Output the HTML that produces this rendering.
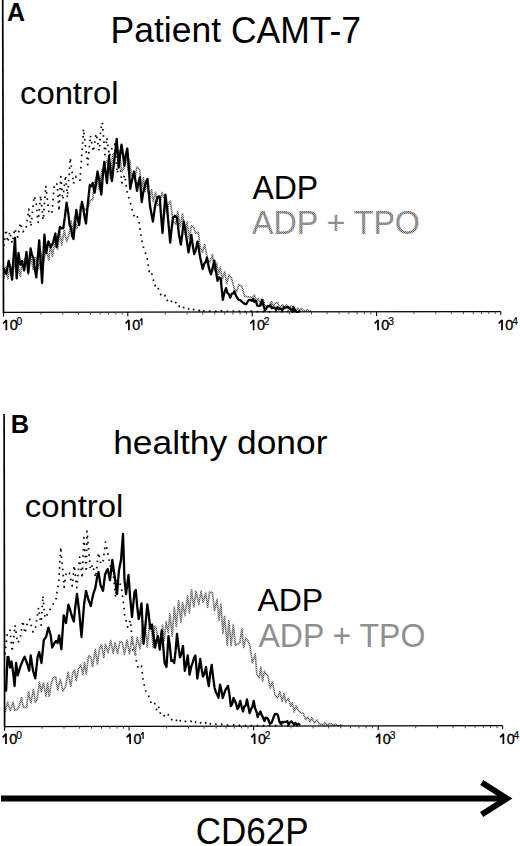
<!DOCTYPE html>
<html><head><meta charset="utf-8"><style>
html,body{margin:0;padding:0;background:#fff;}
body{width:520px;height:846px;overflow:hidden;font-family:"Liberation Sans",sans-serif;}
svg{display:block;}
</style></head><body>
<svg width="520" height="846" viewBox="0 0 520 846" font-family="Liberation Sans">
<defs><pattern id="ht" width="2" height="2" patternUnits="userSpaceOnUse"><rect width="2" height="2" fill="#c4c4c4"/><rect width="1" height="1" fill="#5a5a5a"/><rect x="1" y="1" width="1" height="1" fill="#5a5a5a"/></pattern></defs>
<g fill="none" stroke-linejoin="round" stroke-linecap="butt">
<path d="M3.8 246.0 L6.0 229.6 L7.8 242.2 L9.8 231.6 L12.2 243.1 L14.8 228.6 L17.7 237.2 L20.4 222.8 L22.9 231.7 L25.8 230.1 L28.8 209.1 L31.0 226.5 L34.1 196.1 L35.9 200.4 L38.2 222.4 L40.6 195.4 L43.2 220.0 L45.8 185.8 L48.9 212.6 L51.9 213.7 L54.4 183.5 L57.2 184.2 L59.0 211.0 L60.8 176.7 L62.7 199.7 L65.6 175.4 L67.4 197.7 L70.3 157.9 L73.5 183.7 L76.0 176.3 L78.3 178.7 L80.0 180.1 L83.1 137.1 L83.5 129.0 L87.8 164.7 L90.4 135.4 L93.4 151.6 L96.1 133.7 L99.2 150.8 L100.9 128.7 L102.3 122.4 L105.0 154.6 L106.8 137.7 L109.4 156.1 L112.2 147.4 L114.8 144.0 L117.2 173.5 L119.4 159.0 L121.9 182.9 L124.7 175.1 L127.4 193.6 L130.3 202.2 L132.6 211.6 L134.7 217.4 L137.0 215.6 L139.2 222.7 L141.5 239.2 L144.0 249.5 L146.9 256.2 L149.7 274.9 L151.9 274.1 L154.7 285.7 L157.0 284.7 L160.0 293.6 L163.0 297.4 L165.3 295.3 L167.3 300.5 L170.0 298.7 L172.1 302.6 L174.7 304.0 L176.4 301.8 L179.4 306.5 L181.9 305.1 L183.9 307.7 L186.3 306.6 L188.8 309.0 L191.8 307.6 L194.0 309.7 L196.8 308.8 L199.8 310.9 L201.5 309.4 L203.3 311.1 L205.7 309.9 L208.5 311.1 L210.4 311.2 L213.4 311.6 L215.8 311.4 L218.0 310.4 L220.2 311.4 L222.1 310.6 L224.3 311.4 L226.5 311.6 L228.8 310.8 L231.1 311.6 L233.8 311.0 L236.1 311.6 L238.8 311.1 L241.1 311.8 L243.3 310.9 L245.4 311.7 L248.2 311.7 L251.0 311.0 L253.5 311.6 L255.2 311.2 L256.9 311.6 L259.9 311.6 L262.8 311.6 L265.4 311.1 L268.0 311.8 L270.7 311.7 L272.6 311.1 L274.3 311.7 L277.2 311.3 L279.3 311.2 L281.5 311.7 L283.7 311.3 L286.1 311.2 L288.8 311.7 L291.6 311.3 L294.0 311.7 L295.9 311.3 L298.9 311.7" stroke="#000" stroke-width="1.7" stroke-dasharray="1.6 4.6"/>
<path d="M3.8 278.8 L5.4 267.1 L7.9 278.7 L10.3 264.9 L12.0 277.9 L14.5 261.7 L16.8 277.4 L18.4 265.8 L20.3 276.4 L22.5 260.9 L24.1 261.2 L26.3 256.2 L28.1 274.5 L30.6 254.4 L33.2 269.8 L36.0 257.4 L38.5 269.3 L40.7 251.6 L43.3 264.5 L46.1 247.9 L48.8 260.0 L50.6 243.9 L52.4 256.7 L55.1 239.3 L57.6 249.3 L60.0 232.2 L61.8 245.1 L64.2 230.1 L66.7 241.5 L69.2 233.8 L71.1 220.9 L72.8 232.0 L74.7 216.8 L76.8 228.3 L78.8 222.9 L80.4 205.4 L82.9 205.5 L85.5 210.3 L88.0 206.6 L90.8 200.0 L92.8 199.4 L94.5 182.4 L96.7 176.6 L99.4 189.6 L101.9 170.3 L104.3 167.8 L106.4 161.2 L108.7 160.9 L110.4 178.9 L112.8 154.1 L115.1 152.6 L116.6 152.7 L119.0 150.6 L121.8 172.0 L123.9 168.0 L126.3 152.9 L128.2 171.0 L129.7 160.1 L131.4 175.6 L133.1 175.1 L134.9 179.7 L136.8 167.2 L139.6 169.6 L141.7 189.5 L143.3 177.5 L145.1 191.6 L147.1 181.9 L149.4 198.4 L151.5 189.4 L153.2 201.4 L155.6 192.3 L157.7 205.5 L160.0 204.9 L162.0 192.4 L164.5 199.0 L166.6 213.7 L168.7 203.5 L170.3 201.1 L173.1 221.4 L175.5 224.3 L177.7 211.3 L180.3 226.3 L182.5 213.5 L185.3 234.9 L187.1 221.9 L189.2 238.5 L191.5 225.6 L193.5 226.9 L195.6 233.5 L198.3 232.2 L200.1 247.0 L202.5 252.1 L204.7 244.5 L207.5 259.4 L209.7 262.4 L212.5 254.5 L214.5 270.8 L216.8 263.0 L218.4 275.0 L220.2 267.1 L222.3 279.7 L224.7 271.6 L226.7 283.5 L229.2 274.7 L231.6 278.5 L234.4 289.4 L236.6 291.4 L239.0 284.5 L241.8 286.6 L244.5 296.1 L247.1 296.6 L249.6 297.0 L252.3 297.9 L254.4 295.1 L256.5 301.5 L258.2 298.7 L260.8 305.3 L263.0 299.6 L264.9 305.5 L266.5 306.2 L269.0 306.5 L271.5 301.6 L273.2 306.3 L275.4 303.2 L277.6 302.6 L279.9 308.0 L282.6 304.7 L284.7 309.0 L286.4 304.9 L288.8 310.0 L290.8 305.9 L293.2 307.0 L295.9 310.6 L297.8 308.2 L299.7 310.4 L301.4 308.4 L303.4 310.8 L305.5 310.9 L307.4 309.7 L309.6 311.6 L311.5 310.6" stroke="url(#ht)" stroke-width="1.7"/>
<path d="M3.8 268.0 L4.5 272.0 L6.3 273.8 L8.7 261.0 L10.4 268.0 L12.1 279.6 L13.6 256.9 L15.0 238.0 L16.7 278.4 L18.5 253.0 L20.2 264.6 L21.9 261.0 L24.2 270.4 L26.5 252.0 L28.3 272.7 L30.6 248.5 L32.0 254.9 L33.4 257.7 L34.8 268.9 L36.3 277.3 L37.8 257.6 L39.2 240.4 L40.7 261.7 L42.1 283.0 L44.4 234.6 L46.1 253.0 L48.4 241.5 L50.7 247.3 L53.0 242.7 L55.4 233.5 L56.5 247.0 L58.2 236.7 L60.0 227.0 L61.6 228.3 L63.3 228.0 L64.9 216.9 L66.6 202.7 L68.1 211.7 L69.6 225.0 L70.9 227.2 L72.2 236.1 L73.5 239.0 L74.9 224.2 L76.3 210.0 L77.8 218.9 L79.2 225.0 L80.6 210.9 L82.0 202.0 L83.3 208.9 L84.7 217.5 L86.0 223.5 L87.9 202.8 L89.8 185.0 L91.2 186.3 L92.7 183.0 L94.6 192.7 L96.0 184.2 L97.5 171.5 L99.4 180.6 L101.3 194.6 L102.8 175.8 L104.2 162.0 L105.6 172.7 L107.0 183.0 L109.0 156.0 L110.5 170.8 L112.0 181.0 L113.4 167.9 L114.8 156.0 L116.7 138.8 L118.7 167.7 L120.1 154.7 L121.5 144.6 L123.0 154.8 L124.4 165.8 L125.8 154.7 L127.3 148.5 L128.8 167.2 L130.2 188.8 L132.1 179.8 L134.0 171.5 L135.5 181.1 L137.0 190.8 L138.4 182.7 L139.8 177.3 L141.7 202.0 L143.1 193.1 L144.6 187.0 L146.1 181.5 L147.5 179.0 L150.0 206.0 L151.4 213.5 L152.9 221.5 L154.4 210.8 L155.8 202.3 L157.7 196.9 L159.6 196.5 L161.1 216.5 L162.5 233.0 L163.9 214.1 L165.4 194.6 L167.3 210.0 L168.8 227.1 L170.2 242.7 L171.6 228.6 L173.0 217.7 L175.0 215.8 L177.0 217.7 L178.9 233.7 L180.8 244.6 L182.2 234.9 L183.7 221.5 L185.3 229.8 L186.9 241.2 L188.5 252.3 L189.9 244.8 L191.3 235.0 L192.8 245.6 L194.2 254.0 L195.8 250.1 L197.4 241.6 L198.7 248.0 L200.1 257.0 L201.4 263.0 L202.7 269.0 L204.1 264.1 L205.6 261.8 L207.0 257.5 L208.3 265.1 L209.7 270.6 L211.0 274.4 L212.7 267.6 L214.3 260.7 L215.9 271.2 L217.5 280.8 L219.1 277.3 L220.7 278.7 L222.8 299.8 L224.4 292.7 L226.0 288.2 L227.4 292.9 L228.8 294.1 L230.2 297.7 L231.6 293.9 L233.0 293.7 L234.4 291.3 L235.8 295.2 L237.3 297.9 L238.7 299.8 L240.3 300.2 L241.8 301.6 L243.4 303.0 L245.0 304.0 L246.4 304.0 L247.8 301.3 L249.2 299.8 L250.5 299.8 L251.8 300.8 L253.2 299.0 L254.5 302.0 L255.9 301.0 L257.3 305.7 L258.7 306.0 L260.4 305.4 L262.0 299.8 L263.5 305.6 L265.0 310.4 L266.4 308.5 L267.7 306.0 L269.0 306.4 L270.4 305.0 L271.8 308.2 L273.2 307.8 L274.6 307.4 L276.0 309.7 L277.4 307.2 L278.8 309.3 L280.5 308.6 L282.3 310.1 L284.0 307.0 L285.4 307.7 L286.7 307.4 L288.0 306.8 L289.4 308.3 L290.8 309.1 L292.2 311.7 L293.6 307.3 L295.0 310.4 L296.7 311.8 L298.3 311.8 L300.0 311.0" stroke="#000" stroke-width="2.3"/>
<path d="M5.0 654.3 L7.4 632.0 L10.0 630.2 L12.2 651.9 L15.1 625.2 L17.5 642.9 L20.0 639.8 L22.8 620.8 L25.0 633.4 L27.8 621.3 L29.8 619.4 L32.9 632.0 L35.5 628.3 L38.5 607.8 L41.1 625.2 L42.9 595.7 L45.0 618.1 L47.9 613.4 L50.6 608.7 L52.9 604.6 L55.9 599.8 L58.7 582.6 L60.7 547.0 L64.1 587.3 L66.3 571.9 L69.4 573.1 L72.2 586.0 L74.2 565.4 L76.8 587.7 L79.7 557.1 L82.1 578.2 L83.9 537.7 L86.3 572.0 L87.0 531.0 L90.4 569.6 L92.6 564.6 L95.6 577.5 L98.5 552.7 L100.9 564.1 L103.1 561.9 L105.3 543.6 L105.5 542.0 L110.7 567.6 L112.8 568.7 L115.6 597.4 L117.3 580.2 L119.0 580.2 L121.8 589.9 L124.7 614.9 L127.7 627.1 L130.5 620.3 L132.9 651.1 L134.8 647.6 L136.7 663.9 L138.5 668.5 L141.5 666.1 L143.3 682.0 L145.9 691.1 L148.9 696.6 L151.7 704.9 L154.7 703.5 L157.0 711.4 L158.8 707.3 L160.9 715.6 L163.8 716.2 L166.1 713.0 L167.9 714.2 L170.3 719.0 L172.5 720.1 L175.3 718.5 L177.5 721.9 L179.3 719.7 L181.7 722.3 L184.2 722.4 L186.1 720.7 L188.6 720.9 L190.6 720.9 L192.8 723.2 L194.9 721.4 L197.4 723.6 L199.6 722.1 L202.7 724.3 L205.4 722.7 L207.6 724.8 L209.6 723.2 L211.3 724.7 L213.2 723.6 L215.4 724.0 L218.2 725.1 L221.2 724.1 L223.9 725.5 L226.5 725.2 L229.6 725.2 L232.4 724.4 L235.0 725.4 L237.0 724.6 L239.8 725.5 L241.9 724.8 L245.0 725.6 L247.8 725.0 L249.5 725.6 L252.5 725.5 L255.6 725.0 L257.3 725.5 L259.1 725.5 L260.9 725.0 L262.8 725.6 L265.9 725.6 L268.4 725.0 L270.4 725.6 L272.4 725.1 L274.9 725.7 L277.3 725.2 L279.7 725.7 L282.4 725.1 L285.3 725.8 L288.3 725.8 L290.4 725.3 L292.6 725.2 L294.3 725.7 L296.9 725.8 L298.7 725.3" stroke="#000" stroke-width="1.7" stroke-dasharray="1.6 4.6"/>
<path d="M5.0 712.8 L7.6 702.2 L10.3 710.8 L13.1 702.2 L14.8 710.4 L17.1 709.3 L18.9 707.0 L21.5 697.5 L23.2 706.8 L24.7 707.5 L26.5 707.6 L28.5 691.5 L30.9 703.2 L33.4 689.2 L35.3 702.4 L37.0 700.3 L39.4 682.1 L41.3 691.9 L43.5 682.8 L46.0 696.3 L47.6 682.9 L49.1 696.4 L51.4 682.9 L53.2 677.7 L55.7 676.9 L57.7 690.2 L60.3 679.3 L62.9 691.1 L65.7 686.2 L68.0 672.2 L70.8 686.3 L72.7 673.4 L74.5 669.8 L76.2 680.5 L78.5 668.9 L80.8 664.9 L82.9 674.8 L84.5 662.1 L86.2 674.2 L88.6 655.8 L90.7 656.7 L92.6 666.5 L95.3 649.4 L97.5 664.4 L99.4 649.4 L101.4 644.6 L103.8 657.7 L105.4 644.2 L108.1 652.9 L110.7 640.4 L113.2 653.6 L115.1 642.7 L117.6 653.7 L120.0 641.6 L122.3 642.2 L124.4 654.5 L127.0 640.0 L129.5 654.1 L132.2 636.3 L135.0 654.8 L137.2 637.1 L140.0 649.0 L142.5 627.2 L145.1 625.2 L147.2 647.1 L149.6 624.2 L151.3 626.3 L153.1 647.6 L154.7 625.9 L156.3 628.1 L158.1 642.8 L160.3 643.7 L162.6 625.1 L164.1 640.8 L166.2 621.5 L168.2 632.8 L169.9 613.6 L172.2 636.1 L174.3 607.2 L176.3 626.4 L178.6 600.8 L181.0 622.3 L182.5 602.1 L184.9 615.7 L187.6 595.9 L189.4 613.1 L191.5 589.8 L193.8 607.0 L196.0 591.2 L198.8 604.3 L201.0 591.2 L203.1 602.5 L205.7 592.7 L207.6 607.5 L209.5 592.2 L212.4 592.5 L214.5 610.8 L217.0 599.4 L219.0 620.1 L220.9 604.1 L222.9 633.7 L224.5 616.4 L227.3 645.5 L228.8 620.4 L231.1 645.7 L233.3 624.6 L235.4 645.4 L237.3 644.4 L239.9 642.4 L241.9 628.6 L243.6 647.7 L245.8 638.3 L248.1 641.3 L249.9 645.8 L252.4 663.2 L255.2 653.9 L256.8 673.9 L259.2 677.9 L260.9 667.0 L262.6 681.3 L264.4 671.1 L266.1 674.3 L267.7 675.5 L270.4 688.0 L272.3 681.7 L275.1 695.4 L277.6 698.2 L279.8 691.5 L282.1 701.5 L284.0 693.3 L285.7 702.4 L288.3 698.1 L290.7 706.3 L292.3 702.7 L294.2 712.0 L296.1 705.8 L298.6 711.0 L301.4 712.9 L303.1 713.1 L305.7 719.8 L307.8 716.8 L310.1 721.8 L311.8 717.7 L314.4 723.1 L316.7 719.8 L319.2 724.0 L320.8 724.1 L323.5 725.0 L325.0 722.5 L327.4 725.2 L329.0 723.5 L331.1 723.6 L332.8 725.4 L334.6 724.3 L336.7 724.7 L338.8 726.0 L341.2 724.8 L342.9 725.9" stroke="url(#ht)" stroke-width="1.7"/>
<path d="M5.2 690.0 L6.1 690.6 L7.5 657.0 L8.4 656.8 L10.0 667.6 L11.5 661.4 L13.1 672.3 L14.6 686.0 L16.1 663.0 L17.7 675.3 L20.0 667.6 L22.3 661.4 L24.6 656.8 L26.9 663.0 L29.2 670.7 L30.7 655.3 L33.0 670.7 L35.3 678.3 L37.6 656.8 L39.2 652.2 L41.5 663.0 L43.8 640.0 L46.1 636.9 L48.4 627.6 L50.7 635.3 L52.2 647.6 L54.5 643.0 L56.0 640.9 L57.6 643.0 L59.1 635.3 L61.4 649.2 L63.7 615.4 L66.0 623.0 L68.4 604.6 L70.0 609.3 L71.5 615.0 L73.8 621.5 L75.4 606.0 L77.0 594.0 L79.0 610.0 L81.5 637.0 L84.0 605.0 L86.0 590.8 L88.5 600.0 L90.8 606.0 L93.0 595.0 L95.4 587.7 L97.0 577.6 L98.5 572.0 L100.5 585.0 L103.0 590.8 L105.0 575.0 L106.3 571.5 L107.7 569.0 L110.0 580.0 L112.3 560.0 L114.5 575.0 L117.0 594.0 L119.0 570.0 L121.0 560.0 L123.0 533.8 L124.5 580.0 L126.0 594.0 L128.5 575.0 L130.0 595.8 L132.0 617.0 L134.5 592.0 L135.8 590.0 L137.2 606.7 L138.7 619.0 L140.1 612.8 L141.5 603.5 L143.5 644.0 L145.4 625.6 L147.3 604.4 L148.8 615.0 L150.2 628.5 L152.0 624.6 L153.5 636.3 L155.0 647.7 L156.4 640.7 L157.9 636.0 L159.8 649.6 L161.7 630.4 L163.1 645.0 L164.6 663.0 L166.5 667.0 L168.5 636.0 L169.9 646.5 L171.3 661.0 L172.8 660.5 L174.2 663.0 L175.6 650.7 L177.0 634.0 L178.5 647.4 L180.0 657.3 L181.5 653.1 L183.0 645.8 L184.8 670.8 L186.2 664.7 L187.7 655.4 L189.6 674.6 L191.1 667.2 L192.5 663.0 L193.9 658.2 L195.4 655.4 L197.3 678.5 L198.8 669.4 L200.2 659.0 L201.6 669.0 L203.0 676.5 L204.5 673.6 L206.0 667.0 L207.4 678.5 L208.8 686.0 L210.2 673.4 L211.7 665.0 L213.1 677.1 L214.6 688.0 L215.9 692.1 L217.2 694.5 L218.5 697.7 L220.0 684.6 L221.3 689.6 L222.7 698.0 L224.1 693.9 L225.4 690.0 L228.0 686.0 L229.4 693.9 L230.8 706.0 L232.2 704.3 L233.5 698.0 L236.0 703.5 L237.5 709.0 L238.8 706.8 L240.2 700.8 L241.6 706.4 L243.0 711.5 L244.3 706.4 L245.7 705.6 L247.0 699.4 L249.6 713.0 L251.0 709.3 L252.3 706.9 L253.7 700.8 L255.0 708.0 L256.4 711.6 L257.7 717.0 L259.0 713.8 L260.4 711.5 L261.7 715.2 L263.1 717.5 L264.4 721.0 L265.7 717.7 L267.0 718.0 L268.4 719.8 L269.8 723.7 L271.4 723.0 L273.0 719.0 L274.8 714.1 L276.5 714.0 L277.9 714.9 L279.2 721.1 L280.6 723.7 L281.9 721.9 L283.3 722.6 L284.6 721.8 L286.0 721.8 L287.3 721.2 L288.6 724.8 L290.0 722.3 L291.3 721.3 L292.7 723.0 L294.0 724.0 L295.5 722.8 L297.0 725.3 L298.5 723.7 L300.0 725.2" stroke="#000" stroke-width="2.3"/>
</g>
<line x1="2.7" y1="0" x2="3.5" y2="313.1" stroke="#000" stroke-width="1.7"/>
<line x1="3.0" y1="312.3" x2="500.8" y2="311.6" stroke="#000" stroke-width="1.25"/>
<line x1="3.5" y1="312.3" x2="3.5" y2="316.5" stroke="#000" stroke-width="1.1"/>
<line x1="40.9" y1="312.2" x2="40.9" y2="314.6" stroke="#444" stroke-width="1"/>
<line x1="62.8" y1="312.2" x2="62.8" y2="314.6" stroke="#444" stroke-width="1"/>
<line x1="78.4" y1="312.2" x2="78.4" y2="314.6" stroke="#444" stroke-width="1"/>
<line x1="90.4" y1="312.2" x2="90.4" y2="314.6" stroke="#444" stroke-width="1"/>
<line x1="100.2" y1="312.2" x2="100.2" y2="314.6" stroke="#444" stroke-width="1"/>
<line x1="108.6" y1="312.2" x2="108.6" y2="314.6" stroke="#444" stroke-width="1"/>
<line x1="115.8" y1="312.1" x2="115.8" y2="314.5" stroke="#444" stroke-width="1"/>
<line x1="122.1" y1="312.1" x2="122.1" y2="314.5" stroke="#444" stroke-width="1"/>
<line x1="127.8" y1="312.1" x2="127.8" y2="316.3" stroke="#000" stroke-width="1.1"/>
<line x1="165.3" y1="312.1" x2="165.3" y2="314.5" stroke="#444" stroke-width="1"/>
<line x1="187.1" y1="312.0" x2="187.1" y2="314.4" stroke="#444" stroke-width="1"/>
<line x1="202.7" y1="312.0" x2="202.7" y2="314.4" stroke="#444" stroke-width="1"/>
<line x1="214.7" y1="312.0" x2="214.7" y2="314.4" stroke="#444" stroke-width="1"/>
<line x1="224.6" y1="312.0" x2="224.6" y2="314.4" stroke="#444" stroke-width="1"/>
<line x1="232.9" y1="312.0" x2="232.9" y2="314.4" stroke="#444" stroke-width="1"/>
<line x1="240.1" y1="312.0" x2="240.1" y2="314.4" stroke="#444" stroke-width="1"/>
<line x1="246.5" y1="312.0" x2="246.5" y2="314.4" stroke="#444" stroke-width="1"/>
<line x1="252.2" y1="312.0" x2="252.2" y2="316.2" stroke="#000" stroke-width="1.1"/>
<line x1="289.6" y1="311.9" x2="289.6" y2="314.3" stroke="#444" stroke-width="1"/>
<line x1="311.5" y1="311.9" x2="311.5" y2="314.3" stroke="#444" stroke-width="1"/>
<line x1="327.0" y1="311.8" x2="327.0" y2="314.2" stroke="#444" stroke-width="1"/>
<line x1="339.0" y1="311.8" x2="339.0" y2="314.2" stroke="#444" stroke-width="1"/>
<line x1="348.9" y1="311.8" x2="348.9" y2="314.2" stroke="#444" stroke-width="1"/>
<line x1="357.2" y1="311.8" x2="357.2" y2="314.2" stroke="#444" stroke-width="1"/>
<line x1="364.4" y1="311.8" x2="364.4" y2="314.2" stroke="#444" stroke-width="1"/>
<line x1="370.8" y1="311.8" x2="370.8" y2="314.2" stroke="#444" stroke-width="1"/>
<line x1="376.5" y1="311.8" x2="376.5" y2="316.0" stroke="#000" stroke-width="1.1"/>
<line x1="413.9" y1="311.7" x2="413.9" y2="314.1" stroke="#444" stroke-width="1"/>
<line x1="435.8" y1="311.7" x2="435.8" y2="314.1" stroke="#444" stroke-width="1"/>
<line x1="451.3" y1="311.7" x2="451.3" y2="314.1" stroke="#444" stroke-width="1"/>
<line x1="463.4" y1="311.7" x2="463.4" y2="314.1" stroke="#444" stroke-width="1"/>
<line x1="473.2" y1="311.6" x2="473.2" y2="314.0" stroke="#444" stroke-width="1"/>
<line x1="481.5" y1="311.6" x2="481.5" y2="314.0" stroke="#444" stroke-width="1"/>
<line x1="488.8" y1="311.6" x2="488.8" y2="314.0" stroke="#444" stroke-width="1"/>
<line x1="495.1" y1="311.6" x2="495.1" y2="314.0" stroke="#444" stroke-width="1"/>
<line x1="500.8" y1="311.6" x2="500.8" y2="315.1" stroke="#000" stroke-width="1"/>
<line x1="4.1" y1="414" x2="4.6" y2="727.3" stroke="#000" stroke-width="1.7"/>
<line x1="4.1" y1="726.5" x2="502.7" y2="725.7" stroke="#000" stroke-width="1.25"/>
<line x1="4.6" y1="726.5" x2="4.6" y2="730.7" stroke="#000" stroke-width="1.1"/>
<line x1="42.1" y1="726.4" x2="42.1" y2="728.8" stroke="#444" stroke-width="1"/>
<line x1="64.0" y1="726.4" x2="64.0" y2="728.8" stroke="#444" stroke-width="1"/>
<line x1="79.6" y1="726.4" x2="79.6" y2="728.8" stroke="#444" stroke-width="1"/>
<line x1="91.6" y1="726.4" x2="91.6" y2="728.8" stroke="#444" stroke-width="1"/>
<line x1="101.5" y1="726.3" x2="101.5" y2="728.7" stroke="#444" stroke-width="1"/>
<line x1="109.8" y1="726.3" x2="109.8" y2="728.7" stroke="#444" stroke-width="1"/>
<line x1="117.1" y1="726.3" x2="117.1" y2="728.7" stroke="#444" stroke-width="1"/>
<line x1="123.4" y1="726.3" x2="123.4" y2="728.7" stroke="#444" stroke-width="1"/>
<line x1="129.1" y1="726.3" x2="129.1" y2="730.5" stroke="#000" stroke-width="1.1"/>
<line x1="166.6" y1="726.2" x2="166.6" y2="728.6" stroke="#444" stroke-width="1"/>
<line x1="188.5" y1="726.2" x2="188.5" y2="728.6" stroke="#444" stroke-width="1"/>
<line x1="204.1" y1="726.2" x2="204.1" y2="728.6" stroke="#444" stroke-width="1"/>
<line x1="216.2" y1="726.2" x2="216.2" y2="728.6" stroke="#444" stroke-width="1"/>
<line x1="226.0" y1="726.1" x2="226.0" y2="728.5" stroke="#444" stroke-width="1"/>
<line x1="234.4" y1="726.1" x2="234.4" y2="728.5" stroke="#444" stroke-width="1"/>
<line x1="241.6" y1="726.1" x2="241.6" y2="728.5" stroke="#444" stroke-width="1"/>
<line x1="248.0" y1="726.1" x2="248.0" y2="728.5" stroke="#444" stroke-width="1"/>
<line x1="253.6" y1="726.1" x2="253.6" y2="730.3" stroke="#000" stroke-width="1.1"/>
<line x1="291.1" y1="726.0" x2="291.1" y2="728.4" stroke="#444" stroke-width="1"/>
<line x1="313.1" y1="726.0" x2="313.1" y2="728.4" stroke="#444" stroke-width="1"/>
<line x1="328.6" y1="726.0" x2="328.6" y2="728.4" stroke="#444" stroke-width="1"/>
<line x1="340.7" y1="726.0" x2="340.7" y2="728.4" stroke="#444" stroke-width="1"/>
<line x1="350.5" y1="725.9" x2="350.5" y2="728.3" stroke="#444" stroke-width="1"/>
<line x1="358.9" y1="725.9" x2="358.9" y2="728.3" stroke="#444" stroke-width="1"/>
<line x1="366.1" y1="725.9" x2="366.1" y2="728.3" stroke="#444" stroke-width="1"/>
<line x1="372.5" y1="725.9" x2="372.5" y2="728.3" stroke="#444" stroke-width="1"/>
<line x1="378.2" y1="725.9" x2="378.2" y2="730.1" stroke="#000" stroke-width="1.1"/>
<line x1="415.7" y1="725.8" x2="415.7" y2="728.2" stroke="#444" stroke-width="1"/>
<line x1="437.6" y1="725.8" x2="437.6" y2="728.2" stroke="#444" stroke-width="1"/>
<line x1="453.1" y1="725.8" x2="453.1" y2="728.2" stroke="#444" stroke-width="1"/>
<line x1="465.2" y1="725.8" x2="465.2" y2="728.2" stroke="#444" stroke-width="1"/>
<line x1="475.1" y1="725.7" x2="475.1" y2="728.1" stroke="#444" stroke-width="1"/>
<line x1="483.4" y1="725.7" x2="483.4" y2="728.1" stroke="#444" stroke-width="1"/>
<line x1="490.6" y1="725.7" x2="490.6" y2="728.1" stroke="#444" stroke-width="1"/>
<line x1="497.0" y1="725.7" x2="497.0" y2="728.1" stroke="#444" stroke-width="1"/>
<line x1="502.7" y1="725.7" x2="502.7" y2="729.2" stroke="#000" stroke-width="1"/>
<path d="M6.35 330.30 V320.00 L3.05 323.50" fill="none" stroke="#000" stroke-width="1.75" stroke-linejoin="bevel" stroke-linecap="butt"/>
<text x="9.65" y="330.30" font-size="14.4" stroke="#000" stroke-width="0.35">0</text>
<text x="16.55" y="325.30" font-size="10.2" stroke="#000" stroke-width="0.2">0</text>
<path d="M128.90 330.30 V320.00 L125.60 323.50" fill="none" stroke="#000" stroke-width="1.75" stroke-linejoin="bevel" stroke-linecap="butt"/>
<text x="132.20" y="330.30" font-size="14.4" stroke="#000" stroke-width="0.35">0</text>
<path d="M141.90 325.30 V318.40 L139.80 320.80" fill="none" stroke="#000" stroke-width="1.25" stroke-linejoin="bevel" stroke-linecap="butt"/>
<path d="M253.60 330.30 V320.00 L250.30 323.50" fill="none" stroke="#000" stroke-width="1.75" stroke-linejoin="bevel" stroke-linecap="butt"/>
<text x="256.90" y="330.30" font-size="14.4" stroke="#000" stroke-width="0.35">0</text>
<text x="263.80" y="325.30" font-size="10.2" stroke="#000" stroke-width="0.2">2</text>
<path d="M378.00 330.30 V320.00 L374.70 323.50" fill="none" stroke="#000" stroke-width="1.75" stroke-linejoin="bevel" stroke-linecap="butt"/>
<text x="381.30" y="330.30" font-size="14.4" stroke="#000" stroke-width="0.35">0</text>
<text x="388.20" y="325.30" font-size="10.2" stroke="#000" stroke-width="0.2">3</text>
<path d="M502.00 330.30 V320.00 L498.70 323.50" fill="none" stroke="#000" stroke-width="1.75" stroke-linejoin="bevel" stroke-linecap="butt"/>
<text x="505.30" y="330.30" font-size="14.4" stroke="#000" stroke-width="0.35">0</text>
<text x="512.20" y="325.30" font-size="10.2" stroke="#000" stroke-width="0.2">4</text>
<path d="M6.00 744.10 V733.80 L2.70 737.30" fill="none" stroke="#000" stroke-width="1.75" stroke-linejoin="bevel" stroke-linecap="butt"/>
<text x="9.30" y="744.10" font-size="14.4" stroke="#000" stroke-width="0.35">0</text>
<text x="16.20" y="739.10" font-size="10.2" stroke="#000" stroke-width="0.2">0</text>
<path d="M130.10 744.10 V733.80 L126.80 737.30" fill="none" stroke="#000" stroke-width="1.75" stroke-linejoin="bevel" stroke-linecap="butt"/>
<text x="133.40" y="744.10" font-size="14.4" stroke="#000" stroke-width="0.35">0</text>
<path d="M143.10 739.10 V732.20 L141.00 734.60" fill="none" stroke="#000" stroke-width="1.25" stroke-linejoin="bevel" stroke-linecap="butt"/>
<path d="M254.60 744.10 V733.80 L251.30 737.30" fill="none" stroke="#000" stroke-width="1.75" stroke-linejoin="bevel" stroke-linecap="butt"/>
<text x="257.90" y="744.10" font-size="14.4" stroke="#000" stroke-width="0.35">0</text>
<text x="264.80" y="739.10" font-size="10.2" stroke="#000" stroke-width="0.2">2</text>
<path d="M379.50 744.10 V733.80 L376.20 737.30" fill="none" stroke="#000" stroke-width="1.75" stroke-linejoin="bevel" stroke-linecap="butt"/>
<text x="382.80" y="744.10" font-size="14.4" stroke="#000" stroke-width="0.35">0</text>
<text x="389.70" y="739.10" font-size="10.2" stroke="#000" stroke-width="0.2">3</text>
<path d="M503.40 744.10 V733.80 L500.10 737.30" fill="none" stroke="#000" stroke-width="1.75" stroke-linejoin="bevel" stroke-linecap="butt"/>
<text x="506.70" y="744.10" font-size="14.4" stroke="#000" stroke-width="0.35">0</text>
<text x="513.60" y="739.10" font-size="10.2" stroke="#000" stroke-width="0.2">4</text>
<text x="7" y="21" font-size="25" font-weight="bold">A</text>
<text x="10.7" y="433.3" font-size="25.5" font-weight="bold">B</text>
<text x="0" y="0" font-size="35.5" transform="translate(110.5 42.6) scale(1.0 1.04)">P</text>
<text x="0" y="0" font-size="35.5" transform="translate(134.19 42.3) scale(1.0 0.975)">atient</text>
<text x="0" y="0" font-size="35.5" transform="translate(230.89 42.5) scale(1.0 1.04)">CAMT-7</text>
<text x="0" y="0" font-size="34.6" transform="translate(113.2 454.1) scale(1.022 0.97)">healthy donor</text>
<text x="0" y="0" font-size="32" transform="translate(20 103.8) scale(1.025 1)">control</text>
<text x="0" y="0" font-size="32" transform="translate(24.8 517.3) scale(1.025 1)">control</text>
<text x="0" y="0" font-size="32" transform="translate(252.4 198.9) scale(1.0 1.04)">ADP</text>
<text x="0" y="0" font-size="32.2" fill="url(#ht)" transform="translate(252 234.0) scale(1.0 1.04)">ADP + TPO</text>
<text x="257.4" y="610.5" font-size="32">ADP</text>
<text x="0" y="0" font-size="32" fill="url(#ht)" transform="translate(258.5 647) scale(1.0 1.02)">ADP + TPO</text>
<rect x="1" y="795.5" width="503" height="6" fill="#000"/>
<path d="M481.8 782.4 L506.9 798.4 L481.6 814.5" fill="none" stroke="#000" stroke-width="5.9" stroke-linejoin="miter" stroke-miterlimit="10"/>
<text x="0" y="0" font-size="35" transform="translate(195.8 844.4) scale(1.0 1.04)">CD62P</text>
</svg>
</body></html>
